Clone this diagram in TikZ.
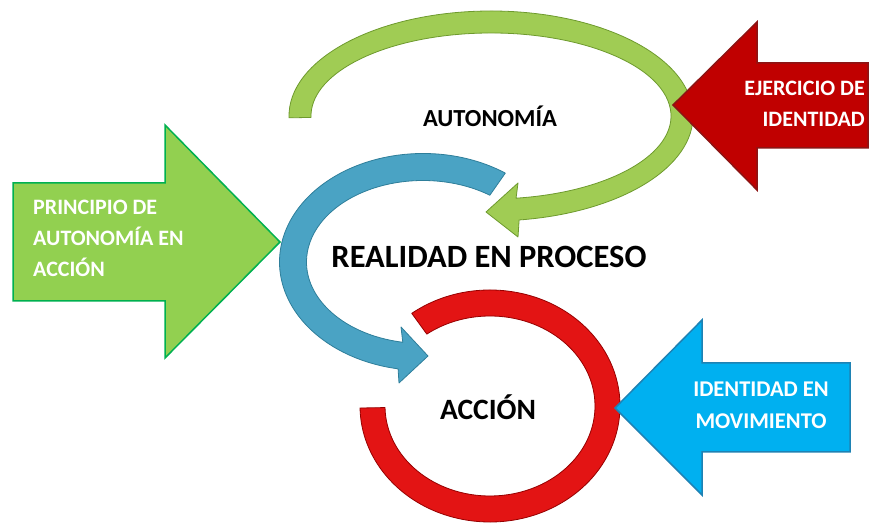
\documentclass[tikz,border=0pt]{standalone}
\usepackage{fontspec}
\setmainfont{Carlito}
\definecolor{leafgreen}{RGB}{160,204,84}
\definecolor{leafdark}{RGB}{110,154,46}
\definecolor{seablue}{RGB}{74,163,196}
\definecolor{seadark}{RGB}{46,126,154}
\definecolor{ringred}{RGB}{227,20,20}
\definecolor{ringdark}{RGB}{150,0,0}
\definecolor{boxgreen}{RGB}{146,208,80}
\definecolor{boxgreenline}{RGB}{0,176,80}
\definecolor{boxred}{RGB}{192,0,0}
\definecolor{boxredline}{RGB}{140,20,20}
\definecolor{boxblue}{RGB}{0,176,240}
\definecolor{boxblueline}{RGB}{30,130,180}
\begin{document}
\begin{tikzpicture}[x=1pt,y=1pt,
  band/.style={line width=0.8pt,line join=round},
  box/.style={line width=1.5pt,line join=miter},
  boxtext/.style={inner sep=0pt,text=white,font=\fontsize{22}{31}\selectfont\bfseries},
  midtext/.style={inner sep=0pt,text=black,font=\bfseries}]
\useasboundingbox (0,0) rectangle (877,529);

\coordinate (G0) at (491,413);
\coordinate (B0) at (423,267);
\coordinate (R0) at (490,123);

\coordinate (GH1) at (518,292);
\coordinate (GH2) at (486,317);
\coordinate (GH3) at (518,346);
\coordinate (BH1) at (399,146);
\coordinate (BH2) at (428,173);
\coordinate (BH3) at (401,202);

\coordinate (P1) at ( 13,346);
\coordinate (P2) at (165,346);
\coordinate (P3) at (165,404);
\coordinate (P4) at (280,287);
\coordinate (P5) at (165,171);
\coordinate (P6) at (165,228);
\coordinate (P7) at ( 13,228);

\coordinate (E1) at (868,466);
\coordinate (E2) at (757,466);
\coordinate (E3) at (757,507);
\coordinate (E4) at (673,424);
\coordinate (E5) at (757,339);
\coordinate (E6) at (757,381);
\coordinate (E7) at (868,381);

\coordinate (M1) at (850,166);
\coordinate (M2) at (702,166);
\coordinate (M3) at (702,209);
\coordinate (M4) at (615,121);
\coordinate (M5) at (702, 34);
\coordinate (M6) at (702, 77);
\coordinate (M7) at (850, 77);

\draw[band,draw=leafdark,fill=leafgreen] ([shift={(181:202 and 105)}]G0) arc[start angle=181,end angle=-82,x radius=202,y radius=105] -- (GH1) -- (GH2) -- (GH3) -- ([shift={(-82:180 and 83)}]G0) arc[start angle=-82,end angle=181,x radius=180,y radius=83] -- cycle;
\draw[band,draw=seadark,fill=seablue] ([shift={(55:143.5 and 108.5)}]B0) arc[start angle=55,end angle=260,x radius=143.5,y radius=108.5] -- (BH1) -- (BH2) -- (BH3) -- ([shift={(260:116.5 and 81.5)}]B0) arc[start angle=260,end angle=55,x radius=116.5,y radius=81.5] -- cycle;
\draw[band,draw=ringdark,fill=ringred] ([shift={(127:130 and 116)}]R0) arc[start angle=127,end angle=-179,x radius=130,y radius=116] -- ([shift={(-179:105 and 90)}]R0) arc[start angle=-179,end angle=127,x radius=105,y radius=90] -- cycle;

\draw[box,draw=boxgreenline,fill=boxgreen] (P1) -- (P2) -- (P3) -- (P4) -- (P5) -- (P6) -- (P7) -- cycle;
\draw[box,draw=boxredline,fill=boxred]     (E1) -- (E2) -- (E3) -- (E4) -- (E5) -- (E6) -- (E7) -- cycle;
\draw[box,draw=boxblueline,fill=boxblue]   (M1) -- (M2) -- (M3) -- (M4) -- (M5) -- (M6) -- (M7) -- cycle;

\node[boxtext,anchor=west,align=left]  (principio) at (33,291)  {PRINCIPIO DE\\AUTONOMÍA EN\\ACCIÓN};
\node[boxtext,anchor=east,align=right] (ejercicio) at (865,425) {EJERCICIO DE\\IDENTIDAD};
\node[boxtext,align=center,font=\fontsize{22.5}{32}\selectfont\bfseries] (movimiento) at (761,124) {IDENTIDAD EN\\MOVIMIENTO};

\node[midtext,font=\fontsize{24.5}{28}\selectfont\bfseries] (autonomia) at (490,413) {AUTONOMÍA};
\node[midtext,font=\fontsize{32.5}{36}\selectfont\bfseries] (realidad)  at (489,272) {REALIDAD EN PROCESO};
\node[midtext,font=\fontsize{29.5}{32}\selectfont\bfseries] (accion)    at (488,122) {ACCIÓN};

%\draw[help lines] (0,0) grid[step=50] (877,529);

\end{tikzpicture}
\end{document}
